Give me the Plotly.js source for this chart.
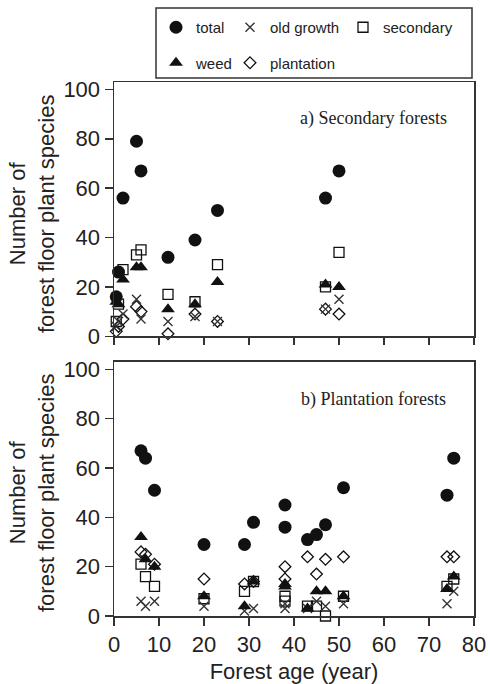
<!DOCTYPE html>
<html>
<head>
<meta charset="utf-8">
<script src="https://cdn.plot.ly/plotly-3.0.1.min.js"></script>
<style>html,body{margin:0;padding:0;background:#fff;}</style>
</head>
<body>
<div id="chart" style="width:490px;height:684px;"></div>
<script>
// ---- Data: a) Secondary forests ----
const ageA   = [0.5, 1, 2, 5, 6, 12, 18, 23, 47, 50];
const totalA = [16, 26, 56, 79, 67, 32, 39, 51, 56, 67];
const oldA   = [4, 6, 9, 15, 7, 6, 8, 6, 11, 15];
const secA   = [6, 13, 27, 33, 35, 17, 14, 29, 20, 34];
const weedA  = [14, 13, 23, 28, 28, 11, 13, 22, 21, 20];
const plantA = [2, 4, 7, 12, 10, 1, 9, 6, 11, 9];

// ---- Data: b) Plantation forests ----
const ageB   = [6, 7, 9, 20, 29, 31, 38, 38, 43, 45, 47, 51, 74, 75.5];
const totalB = [67, 64, 51, 29, 29, 38, 45, 36, 31, 33, 37, 52, 49, 64];
const oldB   = [6, 4, 6, 4, 2, 3, 5, 3, 3, 6, 4, 5, 5, 10];
const secB   = [21, 16, 12, 7, 10, 14, 8, 6, 4, 4, 0, 8, 12, 15];
const weedB  = [32, 23, 20, 8, 4, 14, 13, 12, 3, 10, 10, 8, 11, 16];
const plantB = [26, 25, 21, 15, 13, 14, 20, 15, 24, 17, 23, 24, 24, 24];

const seriesNames = ['total', 'old growth', 'secondary', 'weed', 'plantation'];
const xTicks = [0, 10, 20, 30, 40, 50, 60, 70, 80];
const yTicks = [0, 20, 40, 60, 80, 100];
const panelLabels = ['a) Secondary forests', 'b) Plantation forests'];
const xTitle = 'Forest age (year)';
const yTitle = 'Number of<br>forest floor plant species';

const INK = '#111';
const styles = {
  'total':      {symbol: 'circle', size: 13, color: INK, line: {width: 0}},
  'old growth': {symbol: 'x-thin-open', size: 9, color: '#333', line: {width: 1.4, color: '#333'}},
  'secondary':  {symbol: 'square-open', size: 10, color: INK, line: {width: 1.3, color: INK}},
  'weed':       {symbol: 'triangle-up', size: 12, color: INK, line: {width: 0}},
  'plantation': {symbol: 'diamond-open', size: 9, color: INK, line: {width: 1.3, color: INK}}
};
const legendOf = {
  'total': 'legend', 'weed': 'legend',
  'old growth': 'legend2', 'plantation': 'legend2',
  'secondary': 'legend3'
};

function mk(name, x, y, xa, ya, show) {
  return {
    type: 'scatter', mode: 'markers', name: name,
    x: x, y: y, xaxis: xa, yaxis: ya,
    marker: styles[name],
    cliponaxis: false,
    showlegend: show,
    legend: legendOf[name],
    legendgroup: name,
    legendrank: seriesNames.indexOf(name) + 1,
    hoverinfo: 'x+y+name'
  };
}

const dataA = {'total': totalA, 'old growth': oldA, 'secondary': secA, 'weed': weedA, 'plantation': plantA};
const dataB = {'total': totalB, 'old growth': oldB, 'secondary': secB, 'weed': weedB, 'plantation': plantB};
const drawOrder = ['secondary', 'plantation', 'old growth', 'weed', 'total'];

const traces = [];
drawOrder.forEach(n => traces.push(mk(n, ageA, dataA[n], 'x', 'y', true)));
drawOrder.forEach(n => traces.push(mk(n, ageB, dataB[n], 'x2', 'y2', false)));

const FS = 22;
const axisLine = {
  showline: true, linecolor: '#333', linewidth: 1.5, mirror: true,
  ticks: 'outside', tickcolor: '#333', tickwidth: 1.5,
  showgrid: false, zeroline: false,
  tickfont: {size: FS, color: '#222'}
};

const legendBase = {
  xref: 'container', yref: 'container',
  xanchor: 'left', yanchor: 'top', y: 0.9839,
  orientation: 'v', traceorder: 'grouped', tracegroupgap: 13,
  bgcolor: 'rgba(0,0,0,0)', borderwidth: 0,
  font: {size: 15, color: '#222', family: 'Liberation Sans, Arial, sans-serif'}
};

const layout = {
  width: 490, height: 684,
  margin: {l: 114, r: 16, t: 82, b: 68, autoexpand: false},
  paper_bgcolor: '#fff', plot_bgcolor: '#fff',
  font: {family: 'Liberation Sans, Arial, sans-serif', size: FS, color: '#222'},
  showlegend: true,
  legend:  Object.assign({}, legendBase, {x: 156/490}),
  legend2: Object.assign({}, legendBase, {x: 230/490}),
  legend3: Object.assign({}, legendBase, {x: 343/490}),
  xaxis: Object.assign({}, axisLine, {domain: [0, 1], anchor: 'y', range: [0, 80],
    tickvals: xTicks, showticklabels: false, ticklen: 7}),
  yaxis: Object.assign({}, axisLine, {domain: [0.5238, 1], anchor: 'x', range: [0, 103],
    tickvals: yTicks, ticklen: 8}),
  xaxis2: Object.assign({}, axisLine, {domain: [0, 1], anchor: 'y2', range: [0, 80],
    tickvals: xTicks, ticklen: 8,
    title: {text: xTitle, standoff: 7, font: {size: FS, color: '#222'}}}),
  yaxis2: Object.assign({}, axisLine, {domain: [0, 0.4757], anchor: 'x2', range: [0, 103],
    tickvals: yTicks, ticklen: 8}),
  shapes: [{
    type: 'rect', xref: 'paper', yref: 'paper',
    x0: (156-114)/360, x1: (472-114)/360, y0: (616-78)/534, y1: (616-8)/534,
    line: {color: '#333', width: 1.5}, fillcolor: 'rgba(0,0,0,0)'
  }],
  annotations: [
    {text: panelLabels[0], xref: 'paper', yref: 'paper', x: (449-114)/360, y: (616-118)/534,
     xanchor: 'right', yanchor: 'middle', showarrow: false,
     font: {family: 'Liberation Serif, Times New Roman, serif', size: 18, color: '#222'}},
    {text: panelLabels[1], xref: 'paper', yref: 'paper', x: (448-114)/360, y: (616-399)/534,
     xanchor: 'right', yanchor: 'middle', showarrow: false,
     font: {family: 'Liberation Serif, Times New Roman, serif', size: 18, color: '#222'}},
    {text: yTitle, xref: 'paper', yref: 'paper', x: (32-114)/360, y: (616-214)/534,
     xanchor: 'center', yanchor: 'middle', textangle: -90, showarrow: false,
     font: {size: FS, color: '#222'}},
    {text: yTitle, xref: 'paper', yref: 'paper', x: (32-114)/360, y: (616-493)/534,
     xanchor: 'center', yanchor: 'middle', textangle: -90, showarrow: false,
     font: {size: FS, color: '#222'}}
  ]
};

Plotly.newPlot('chart', traces, layout, {staticPlot: true, displayModeBar: false});
</script>
</body>
</html>
